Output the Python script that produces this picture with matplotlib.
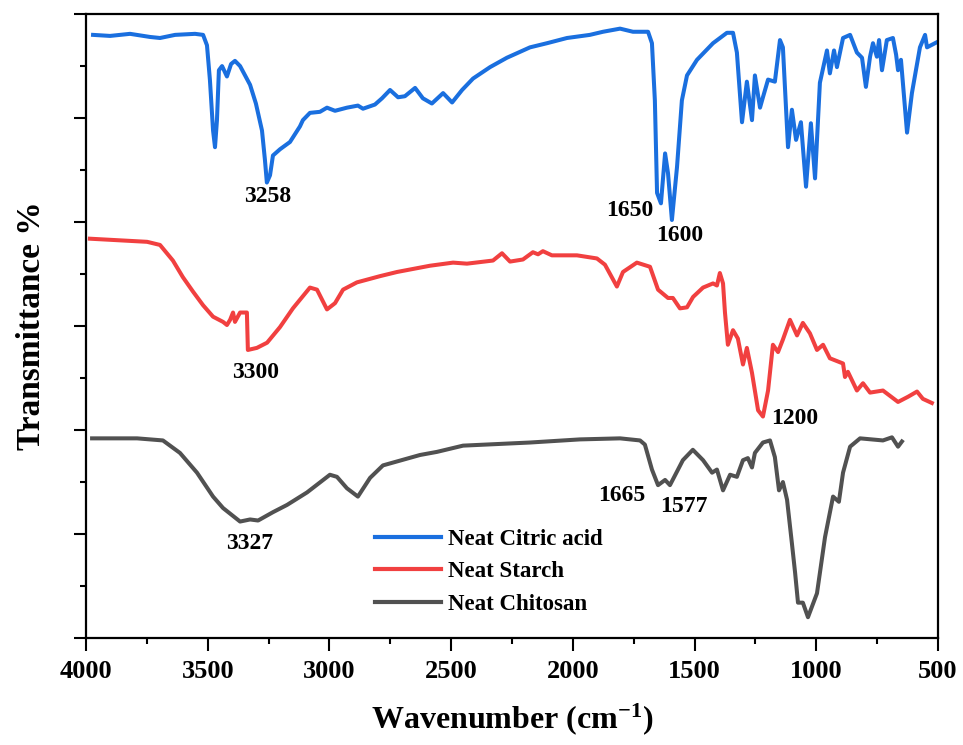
import matplotlib
matplotlib.use("Agg")
import matplotlib.pyplot as plt
from matplotlib.ticker import MultipleLocator, NullFormatter

plt.rcParams['font.family'] = ['Liberation Serif', 'DejaVu Serif']
plt.rcParams['font.weight'] = 'bold'
plt.rcParams['mathtext.fontset'] = 'custom'
plt.rcParams['mathtext.rm'] = 'Liberation Serif:bold'
plt.rcParams['mathtext.bf'] = 'Liberation Serif:bold'
plt.rcParams['mathtext.default'] = 'bf'

# ---- data (wavenumber cm-1, transmittance in arbitrary offset units) ----
citric_wn = [3971, 3901, 3819, 3737, 3696, 3634, 3552, 3519, 3503, 3491, 3478, 3470, 3462, 3454,
             3441, 3421, 3404, 3388, 3367, 3326, 3302, 3277, 3265, 3257, 3244, 3232, 3203, 3162,
             3121, 3109, 3080, 3039, 3010, 2977, 2928, 2883, 2862, 2813, 2784, 2751, 2718, 2690,
             2648, 2616, 2579, 2533, 2496, 2455, 2410, 2340, 2271, 2176, 2106, 2024, 1930, 1876,
             1806, 1753, 1737, 1691, 1675, 1663, 1654, 1638, 1621, 1609, 1593, 1572, 1552, 1531,
             1490, 1424, 1367, 1342, 1326, 1305, 1285, 1264, 1252, 1231, 1219, 1198, 1170, 1149,
             1137, 1116, 1100, 1083, 1063, 1042, 1022, 1005, 985, 956, 944, 927, 915, 890, 861,
             833, 812, 796, 779, 767, 751, 742, 730, 710, 685, 672, 664, 652, 627, 607, 574, 553,
             545, 504]
citric_t = [5.80, 5.79, 5.81, 5.78, 5.77, 5.80, 5.81, 5.80, 5.70, 5.37, 4.88, 4.72, 4.98, 5.46,
            5.50, 5.40, 5.52, 5.55, 5.50, 5.32, 5.14, 4.88, 4.60, 4.38, 4.45, 4.64, 4.70, 4.77,
            4.92, 4.98, 5.05, 5.06, 5.10, 5.07, 5.10, 5.12, 5.09, 5.13, 5.19, 5.27, 5.20, 5.21,
            5.29, 5.19, 5.14, 5.24, 5.15, 5.27, 5.38, 5.49, 5.58, 5.68, 5.72, 5.77, 5.80, 5.83,
            5.86, 5.83, 5.83, 5.83, 5.72, 5.17, 4.28, 4.18, 4.66, 4.47, 4.02, 4.53, 5.17, 5.41,
            5.56, 5.72, 5.82, 5.82, 5.63, 4.96, 5.35, 4.98, 5.41, 5.10, 5.20, 5.37, 5.35, 5.75,
            5.68, 4.72, 5.08, 4.79, 4.96, 4.34, 4.95, 4.42, 5.34, 5.65, 5.43, 5.65, 5.49, 5.77, 5.80,
            5.63, 5.58, 5.30, 5.59, 5.72, 5.59, 5.75, 5.46, 5.75, 5.77, 5.61, 5.46, 5.56, 4.86, 5.24,
            5.68, 5.80, 5.68, 5.73]

starch_wn = [3984, 3749, 3696, 3643, 3602, 3560, 3519, 3478, 3437, 3421, 3408, 3396, 3388, 3367,
             3339, 3335, 3298, 3256, 3203, 3150, 3080, 3051, 3010, 2977, 2944, 2887, 2792, 2722,
             2587, 2492, 2435, 2328, 2291, 2258, 2205, 2164, 2143, 2123, 2086, 1983, 1901, 1868,
             1819, 1794, 1737, 1683, 1650, 1609, 1589, 1560, 1531, 1506, 1465, 1424, 1408, 1396,
             1383, 1375, 1363, 1342, 1322, 1301, 1285, 1264, 1239, 1219, 1198, 1178, 1157, 1137,
             1108, 1079, 1055, 1026, 997, 972, 944, 890, 882, 870, 833, 808, 779, 726, 664, 623,
             586, 562, 525]
starch_t = [3.84, 3.81, 3.78, 3.63, 3.47, 3.33, 3.20, 3.09, 3.04, 3.01, 3.06, 3.13, 3.04, 3.13,
            3.13, 2.77, 2.79, 2.84, 2.99, 3.17, 3.37, 3.35, 3.16, 3.22, 3.35, 3.42, 3.48, 3.52,
            3.58, 3.61, 3.60, 3.63, 3.70, 3.62, 3.64, 3.71, 3.69, 3.72, 3.68, 3.68, 3.65, 3.59,
            3.38, 3.52, 3.61, 3.57, 3.35, 3.27, 3.27, 3.17, 3.18, 3.28, 3.37, 3.41, 3.39, 3.51,
            3.41, 3.13, 2.82, 2.96, 2.88, 2.63, 2.79, 2.55, 2.19, 2.13, 2.38, 2.82, 2.75, 2.87,
            3.06, 2.91, 3.03, 2.93, 2.77, 2.82, 2.69, 2.64, 2.51, 2.56, 2.38, 2.45, 2.36, 2.38,
            2.27, 2.32, 2.37, 2.30, 2.26]

chitosan_wn = [3975, 3790, 3684, 3614, 3544, 3478, 3437, 3367, 3326, 3293, 3232, 3174, 3092, 2998,
               2969, 2928, 2883, 2833, 2780, 2628, 2558, 2451, 2176, 1971, 1806, 1724, 1704, 1675,
               1650, 1621, 1601, 1548, 1507, 1465, 1428, 1408, 1383, 1354, 1326, 1301, 1281, 1264,
               1252, 1219, 1190, 1170, 1153, 1137, 1120, 1100, 1087, 1075, 1055, 1034, 997, 964,
               931, 907, 890, 861, 820, 726, 689, 664, 648]
chitosan_t = [1.92, 1.92, 1.90, 1.78, 1.59, 1.36, 1.25, 1.12, 1.14, 1.13, 1.21, 1.28, 1.40, 1.57,
              1.55, 1.44, 1.36, 1.54, 1.66, 1.76, 1.79, 1.85, 1.88, 1.91, 1.92, 1.90, 1.86, 1.62,
              1.47, 1.52, 1.47, 1.71, 1.81, 1.71, 1.59, 1.62, 1.42, 1.57, 1.55, 1.71, 1.73, 1.64,
              1.78, 1.88, 1.90, 1.74, 1.42, 1.50, 1.33, 0.91, 0.63, 0.34, 0.34, 0.20, 0.43, 0.97,
              1.36, 1.31, 1.59, 1.84, 1.92, 1.90, 1.93, 1.84, 1.89]

series_names = ["Neat Citric acid", "Neat Starch", "Neat Chitosan"]
series_colors = ["#1a6fdf", "#f14040", "#515151"]

peak_labels = ["3258", "1650", "1600", "3300", "1200", "3327", "1665", "1577"]
peak_label_wn = [3252, 1765, 1560, 3302, 1087, 3326, 1798, 1543]
peak_label_t = [4.25, 4.11, 3.87, 2.55, 2.11, 0.91, 1.37, 1.26]

# ---- figure ----
fig = plt.figure(figsize=(9.63, 7.45), dpi=100)
ax = fig.add_axes([0.0893, 0.1436, 0.8847, 0.8375])

for wn, t, name, col in zip([citric_wn, starch_wn, chitosan_wn],
                            [citric_t, starch_t, chitosan_t],
                            series_names, series_colors):
    ax.plot(wn, t, color=col, lw=2.9, label=name, solid_joinstyle='round')

for lab, x, y in zip(peak_labels, peak_label_wn, peak_label_t):
    ax.text(x, y, lab, ha='center', va='center', fontsize=17, fontweight='bold')

ax.set_xlim(4000, 500)
ax.set_ylim(0, 6)
ax.xaxis.set_major_locator(MultipleLocator(500))
ax.xaxis.set_minor_locator(MultipleLocator(250))
ax.yaxis.set_major_locator(MultipleLocator(1))
ax.yaxis.set_minor_locator(MultipleLocator(0.5))
ax.yaxis.set_major_formatter(NullFormatter())

ax.tick_params(which='major', direction='out', length=9, width=1.5, labelsize=19, pad=7)
ax.tick_params(which='minor', direction='out', length=4.5, width=1.5)
for lbl in ax.get_xticklabels():
    lbl.set_fontweight('bold')
for s in ax.spines.values():
    s.set_linewidth(1.6)

ax.set_xlabel("Wavenumber (cm$^{-1}$)", fontsize=23, fontweight='bold', labelpad=13)
ax.set_ylabel("Transmittance %", fontsize=24, fontweight='bold', labelpad=12)

leg = ax.legend(loc='upper left', bbox_to_anchor=(0.315, 0.208), frameon=False,
                prop={'size': 16.5, 'weight': 'bold'}, handlelength=2.9, handletextpad=0.3,
                labelspacing=0.5)
for h in leg.get_lines():
    h.set_linewidth(3)

fig.savefig("out.png", dpi=100)
